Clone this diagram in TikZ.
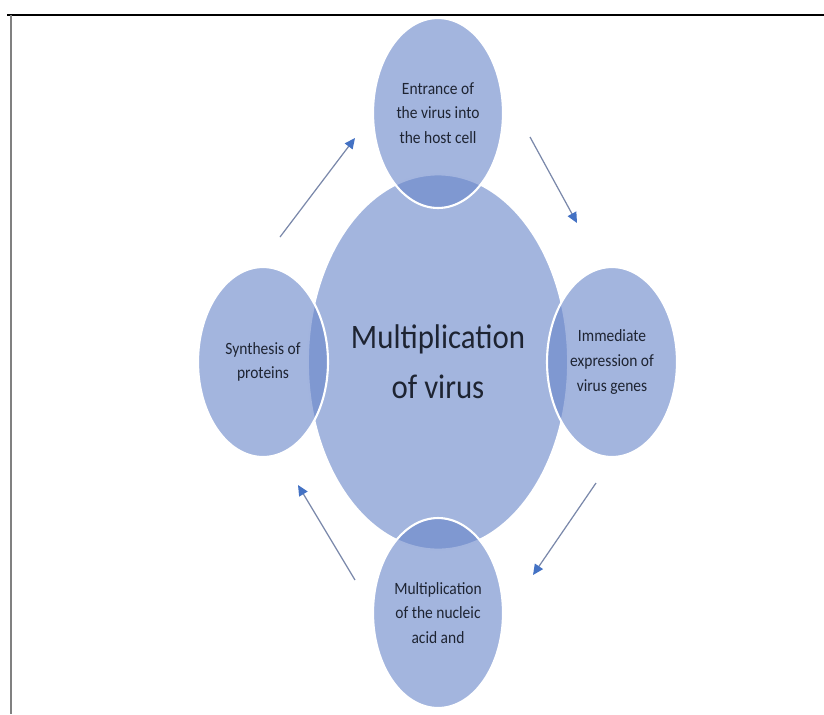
\documentclass[tikz,border=0pt]{standalone}
\usepackage{fontspec}
\newfontfamily\smartfont[FakeStretch=0.9]{Carlito}
\usetikzlibrary{shapes.geometric,arrows.meta}
\definecolor{bubble}{RGB}{163,181,222}
\definecolor{satellite}{RGB}{106,135,202}
\definecolor{arrowline}{RGB}{122,136,170}
\definecolor{arrowtip}{RGB}{68,114,196}
\definecolor{inktext}{RGB}{30,36,50}

\begin{document}
\begin{tikzpicture}[x=0.02cm,y=-0.02cm,
		hub/.style={ellipse, fill=bubble, draw=white, line width=1pt, minimum width=5.2cm, minimum height=7.5cm, inner sep=0pt, text=inktext, align=center, font=\smartfont\fontsize{19.5}{28.5}\selectfont},
		sat/.style={ellipse, fill=satellite, fill opacity=0.62, text opacity=1, draw=white, line width=1.2pt, minimum width=2.6cm, minimum height=3.8cm, inner sep=0pt, text=inktext, align=center, font=\smartfont\fontsize{9.8}{14}\selectfont},
		flow/.style={draw=arrowline, line width=0.7pt, -{Triangle[length=6pt, width=5.5pt, color=arrowtip]}}]
		\begin{scope}
			\useasboundingbox (0,0) rectangle (824,714);

			% page frame
			\coordinate (frametl) at (7,15);
			\coordinate (frametr) at (824,15);
			\coordinate (framelt) at (11,15);
			\coordinate (framelb) at (11,714);
			\draw[line width=1.1pt] (frametl) -- (frametr);
			\draw[gray, line width=1.2pt] (framelt) -- (framelb);

			\node[hub] (hub) at (438,362) {Multiplication\\of virus};

			\node[sat] (entry) at (438,113) {Entrance of\\the virus into\\the host cell};
			\node[sat] (express) at (612,362) {Immediate\\expression of\\virus genes};
			\node[sat] (replicate) at (438,613) {Multiplication\\of the nucleic\\acid and};
			\node[sat] (synthesis) at (263,362) {Synthesis of\\proteins};

			\coordinate (a1s) at (280,237); \coordinate (a1e) at (355,138); % synthesis to entry
			\coordinate (a2s) at (530,137); \coordinate (a2e) at (577,223); % entry to express
			\coordinate (a3s) at (596,483); \coordinate (a3e) at (533,575); % express to replicate
			\coordinate (a4s) at (355,580); \coordinate (a4e) at (298,485); % replicate to synthesis
			\draw[flow] (a1s) -- (a1e);
			\draw[flow] (a2s) -- (a2e);
			\draw[flow] (a3s) -- (a3e);
			\draw[flow] (a4s) -- (a4e);

		\end{scope}
	\end{tikzpicture}
\end{document}
